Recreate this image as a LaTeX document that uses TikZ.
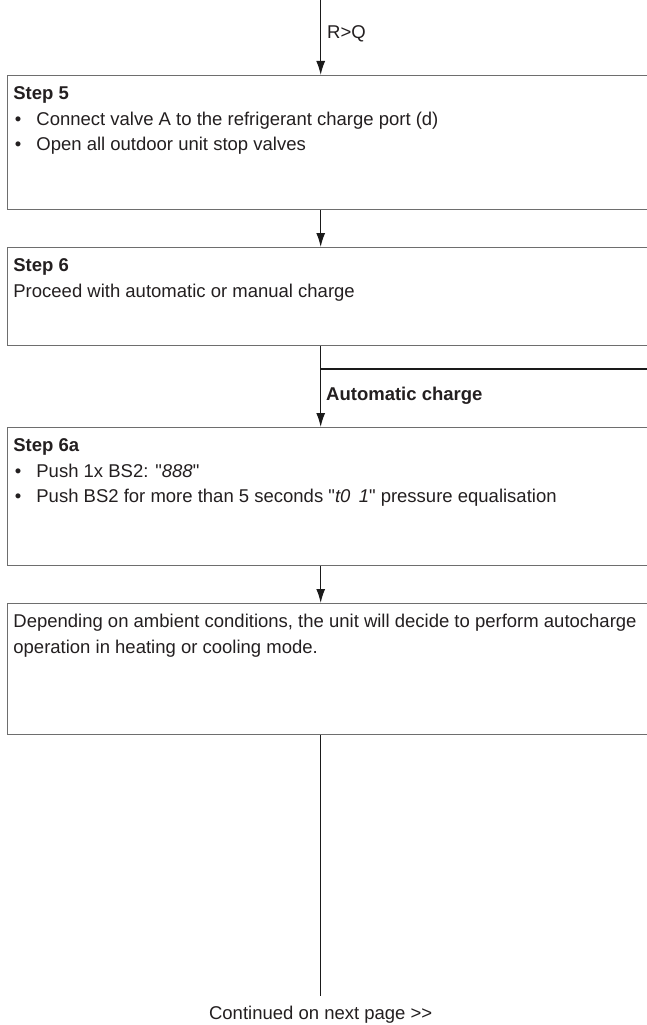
\documentclass[tikz,border=0pt]{standalone}
\usepackage{fontspec}
\setmainfont{Liberation Sans}
\usetikzlibrary{arrows.meta, positioning, calc}
\definecolor{FrameGray}{HTML}{6E6E6E}
\definecolor{InkBlack}{HTML}{1A1A1A}
\definecolor{BodyText}{HTML}{231F20}

% box contents: fixed height, top aligned
\newcommand{\stepbody}[2]{\parbox[t][#1][t]{633pt}{\raggedright
  \fontsize{18.5}{25.5}\selectfont\color{BodyText}\rule{0pt}{24pt}#2}}
\newcommand{\stepitem}{\par\makebox[23pt][l]{\hspace{1.5pt}\textbullet}}
\newcommand{\segdigits}[1]{\textquotedbl{\itshape #1}\textquotedbl}

\begin{document}
\begin{tikzpicture}[x=1pt, y=1pt,
    stepbox/.style={draw=FrameGray, line width=1.4pt, fill=white, anchor=north west,
      inner xsep=6pt, inner ysep=0pt, minimum width=645pt},
    flow/.style={draw=InkBlack, line width=1.3pt, -{Latex[length=14pt,width=9pt]}},
    link/.style={draw=InkBlack, line width=1.3pt},
    tag/.style={anchor=west, inner sep=0pt, text=BodyText,
      font=\fontsize{18.5}{22}\selectfont}]
  \useasboundingbox (0,0) rectangle (646,-1025);
  \coordinate (trunk) at (320.7,0);

  % the steps
  \node[stepbox] (step5) at (6.7,-75) {\stepbody{134pt}{\textbf{Step 5}
      \stepitem Connect valve A to the refrigerant charge port (d)
      \stepitem Open all outdoor unit stop valves}};
  \node[stepbox] (step6) at (6.7,-247) {\stepbody{98pt}{\textbf{Step 6}\par
      Proceed with automatic or manual charge}};
  \node[stepbox] (step6a) at (6.7,-427) {\stepbody{138pt}{\textbf{Step 6a}
      \stepitem Push 1x BS2: \segdigits{888}
      \stepitem Push BS2 for more than 5 seconds \segdigits{t0\hspace{0.45em}1} pressure equalisation}};
  \node[stepbox] (ambient) at (6.7,-603) {\stepbody{131pt}{Depending on ambient
      conditions, the unit will decide to perform autocharge\\
      operation in heating or cooling mode.}};

  % connectors
  \draw[flow] (trunk) -- (trunk |- step5.north);
  \node[tag] (rqlbl) at (327,-34) {R>Q};
  \draw[flow] (trunk |- step5.south) -- (trunk |- step6.north);
  \draw[flow] (trunk |- step6.south) -- (trunk |- step6a.north);
  \coordinate (fork) at (320.7,-369);
  \draw[link] (fork) -- (fork -| step6.east);
  \node[tag, font=\fontsize{18.5}{22}\selectfont\bfseries] (autolbl) at (326,-396) {Automatic charge};
  \draw[flow] (trunk |- step6a.south) -- (trunk |- ambient.north);
  \coordinate (tail) at (320.7,-996);
  \draw[link] (trunk |- ambient.south) -- (tail);
  \node[anchor=base, inner sep=0pt, text=BodyText, font=\fontsize{18.5}{22}\selectfont]
    (cont) at (320.7,-1019) {Continued on next page >\kern0pt>};
\end{tikzpicture}
\end{document}
